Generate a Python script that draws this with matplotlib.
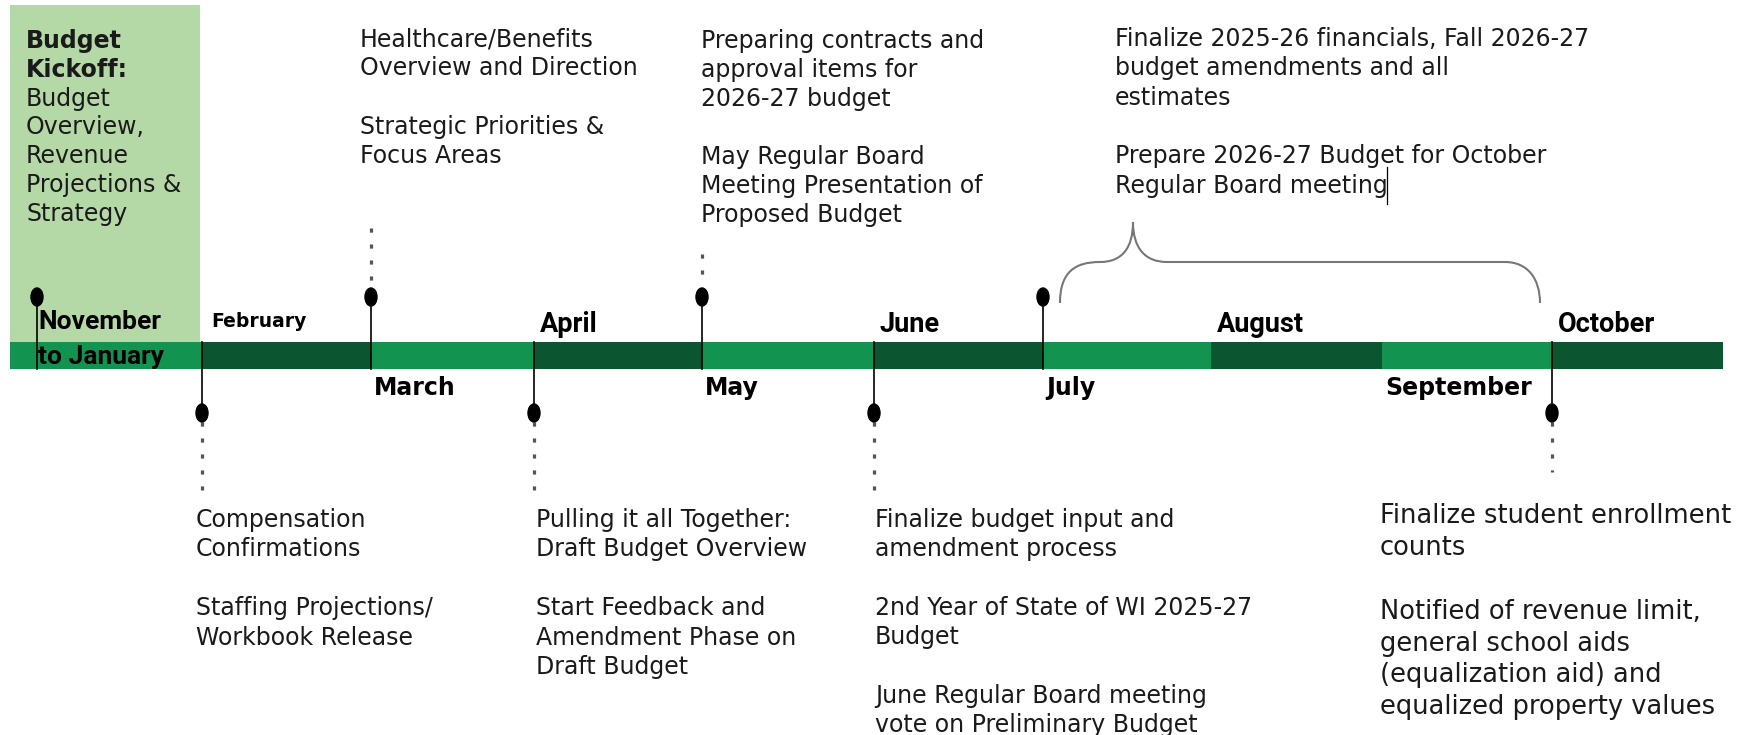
import matplotlib.pyplot as plt
from matplotlib.patches import Rectangle, Ellipse, PathPatch
from matplotlib.path import Path

# timeline data
months = ["November", "February", "March", "April", "May", "June",
          "July", "August", "September", "October"]
month_edges = [10, 202, 371, 534, 702, 874, 1043, 1211, 1382, 1552, 1723]
label_side = ["top", "top", "bottom", "top", "bottom", "top",
              "bottom", "top", "bottom", "top"]

pins_up = [37, 371, 702, 1043]
pins_down = [202, 534, 874, 1552]

kickoff_bold = ["Budget", "Kickoff:"]
kickoff_text = ["Budget", "Overview,", "Revenue", "Projections &", "Strategy"]

notes_top = [
    ["Healthcare/Benefits", "Overview and Direction", "",
     "Strategic Priorities &", "Focus Areas"],
    ["Preparing contracts and", "approval items for", "2026-27 budget", "",
     "May Regular Board", "Meeting Presentation of", "Proposed Budget"],
    ["Finalize 2025-26 financials, Fall 2026-27", "budget amendments and all",
     "estimates", "", "Prepare 2026-27 Budget for October",
     "Regular Board meeting"],
]
notes_bottom = [
    ["Compensation", "Confirmations", "", "Staffing Projections/",
     "Workbook Release"],
    ["Pulling it all Together:", "Draft Budget Overview", "",
     "Start Feedback and", "Amendment Phase on", "Draft Budget"],
    ["Finalize budget input and", "amendment process", "",
     "2nd Year of State of WI 2025-27", "Budget", "",
     "June Regular Board meeting", "vote on Preliminary Budget"],
    ["Finalize student enrollment", "counts", "", "Notified of revenue limit,",
     "general school aids", "(equalization aid) and",
     "equalized property values"],
]

light = "#12934f"
dark = "#0b5530"
pale = "#b5d8a7"
body_font = "DejaVu Sans"
head_font = "Roboto"
ink = "#1a1a1a"

fig = plt.figure(figsize=(17.62, 7.35), dpi=100)
ax = fig.add_axes([0, 0, 1, 1])
ax.set_xlim(0, 1762)
ax.set_ylim(735, 0)
ax.axis("off")

bar_top, bar_bot = 342, 369

# kickoff box
ax.add_patch(Rectangle((10, 5), 190, bar_top - 5, color=pale, lw=0, zorder=0))

# bar segments
for i in range(len(months)):
    c = light if i % 2 == 0 else dark
    ax.add_patch(Rectangle((month_edges[i], bar_top), month_edges[i + 1] - month_edges[i],
                           bar_bot - bar_top, color=c, lw=0, zorder=1))

# month labels
for i, m in enumerate(months):
    x = month_edges[i] + 6
    if i == 0:
        ax.text(38, 322, "November", fontsize=19, fontweight="bold", family=head_font,
                va="center", zorder=5)
        ax.text(38, 357, "to January", fontsize=19, fontweight="bold", family=head_font,
                va="center", zorder=5)
    elif m == "February":
        ax.text(x + 3, 321, m, fontsize=13.5, fontweight="bold", family=body_font, va="center")
    elif label_side[i] == "top":
        ax.text(x, 324, m, fontsize=19.5, fontweight="bold", family=head_font, va="center")
    else:
        ax.text(x - 3, 388, m, fontsize=17, fontweight="bold", family=body_font, va="center")

dot_style = dict(color="#555555", lw=2.3, linestyle=(0, (1.3, 3.7)), zorder=2)

# pins pointing up
for x in pins_up:
    ax.plot([x, x], [297, bar_bot], color="black", lw=1.2, zorder=3)
    ax.add_patch(Ellipse((x, 297), 12, 18, color="black", zorder=4))
ax.plot([371, 371], [228, 282], **dot_style)
ax.plot([702, 702], [254, 276], **dot_style)

# pins pointing down
for x in pins_down:
    ax.plot([x, x], [bar_top, 413], color="black", lw=1.2, zorder=3)
    ax.add_patch(Ellipse((x, 413), 12, 18, color="black", zorder=4))
    ax.plot([x, x], [422, 490 if x != 1552 else 472], **dot_style)

# brace over July-September
verts = [(1060, 303), (1060, 272), (1075, 262), (1100, 262),
         (1122, 262), (1133, 248), (1133, 222),
         (1133, 248), (1145, 262), (1167, 262),
         (1505, 262),
         (1527, 262), (1540, 278), (1540, 303)]
codes = [Path.MOVETO] + [Path.CURVE4] * 9 + [Path.LINETO] + [Path.CURVE4] * 3
ax.add_patch(PathPatch(Path(verts, codes), fill=False, edgecolor="#777777", lw=1.5))

# text caret
ax.plot([1387, 1387], [167, 204], color="black", lw=0.9)

# kickoff text
for j, line in enumerate(kickoff_bold + kickoff_text):
    bold = j < len(kickoff_bold)
    ax.text(26, 41 + j * 28.8, line, fontsize=17, family=body_font,
            fontweight="bold" if bold else "normal", va="center", color=ink)

def block(x, y0, step, lines, fs=17):
    for j, line in enumerate(lines):
        if line:
            ax.text(x, y0 + j * step, line, fontsize=fs, family=body_font,
                    va="center", color=ink)

block(360, 39, 29.3, notes_top[0])
block(701, 41, 29.0, notes_top[1])
block(1115, 39, 29.3, notes_top[2])
block(196, 520, 29.5, notes_bottom[0])
block(536, 520, 29.4, notes_bottom[1])
block(875, 520, 29.3, notes_bottom[2])
block(1380, 516, 31.9, notes_bottom[3], fs=18.5)

fig.savefig("out.png", dpi=100)
